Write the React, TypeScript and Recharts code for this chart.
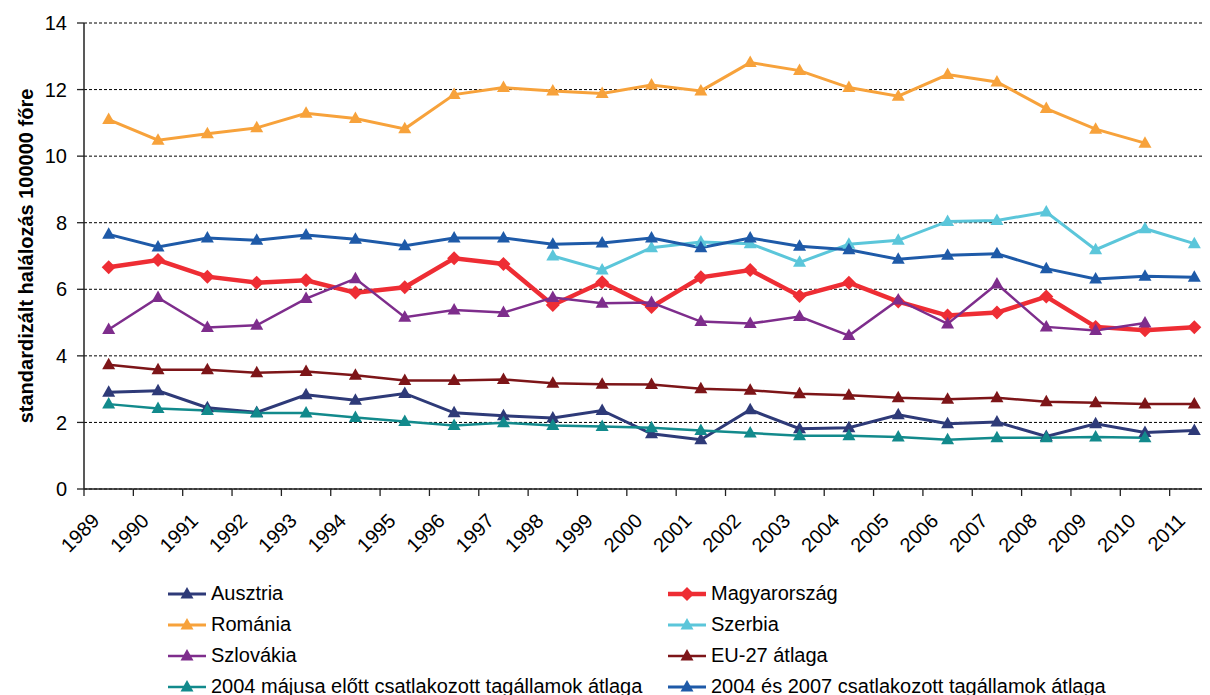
import { CartesianGrid, Line, LineChart, XAxis, YAxis } from "recharts";

const years = [
  "1989", "1990", "1991", "1992", "1993", "1994", "1995", "1996", "1997", "1998", "1999", "2000",
  "2001", "2002", "2003", "2004", "2005", "2006", "2007", "2008", "2009", "2010", "2011",
];

const ausztria = [
  2.91, 2.95, 2.44, 2.3, 2.83, 2.67, 2.87, 2.29, 2.2, 2.13, 2.36, 1.66,
  1.48, 2.38, 1.81, 1.84, 2.23, 1.96, 2.01, 1.58, 1.96, 1.7, 1.76,
];
const magyarorszag = [
  6.66, 6.88, 6.38, 6.2, 6.27, 5.9, 6.06, 6.93, 6.76, 5.53, 6.21, 5.47,
  6.36, 6.58, 5.8, 6.2, 5.63, 5.21, 5.3, 5.78, 4.87, 4.77, 4.86,
];
const romania = [
  11.1, 10.48, 10.67, 10.85, 11.29, 11.13, 10.82, 11.85, 12.06, 11.96, 11.88, 12.14,
  11.96, 12.81, 12.57, 12.06, 11.8, 12.45, 12.23, 11.43, 10.81, 10.39, null,
];
const szerbia = [
  null, null, null, null, null, null, null, null, null, 7.0, 6.58, 7.25,
  7.42, 7.37, 6.81, 7.35, 7.47, 8.04, 8.07, 8.32, 7.19, 7.82, 7.37,
];
const szlovakia = [
  4.79, 5.75, 4.85, 4.92, 5.72, 6.32, 5.16, 5.38, 5.3, 5.75, 5.58, 5.6,
  5.03, 4.97, 5.18, 4.61, 5.68, 4.96, 6.16, 4.87, 4.76, 4.99, null,
];
const eu27 = [
  3.73, 3.58, 3.58, 3.49, 3.53, 3.42, 3.26, 3.26, 3.29, 3.18, 3.15, 3.14,
  3.01, 2.97, 2.86, 2.82, 2.74, 2.7, 2.74, 2.62, 2.59, 2.55, 2.55,
];
const regiTagok = [
  2.55, 2.42, 2.36, 2.28, 2.28, 2.15, 2.03, 1.91, 1.99, 1.91, 1.88, 1.84,
  1.76, 1.68, 1.6, 1.6, 1.56, 1.48, 1.54, 1.54, 1.56, 1.54, null,
];
const ujTagok = [
  7.65, 7.27, 7.54, 7.47, 7.63, 7.5, 7.31, 7.54, 7.54, 7.35, 7.39, 7.54,
  7.25, 7.54, 7.29, 7.19, 6.9, 7.02, 7.07, 6.62, 6.31, 6.39, 6.36,
];

const yTicks = [0, 2, 4, 6, 8, 10, 12, 14];

type Shape = "triangle" | "diamond";
type Series = {
  key: string;
  name: string;
  values: (number | null)[];
  color: string;
  width: number;
  shape: Shape;
};

const series: Series[] = [
  { key: "ausztria", name: "Ausztria", values: ausztria, color: "#2e3a78", width: 3, shape: "triangle" },
  { key: "magyarorszag", name: "Magyarország", values: magyarorszag, color: "#ee2d34", width: 4.5, shape: "diamond" },
  { key: "romania", name: "Románia", values: romania, color: "#f7a23b", width: 3, shape: "triangle" },
  { key: "szerbia", name: "Szerbia", values: szerbia, color: "#5bc6da", width: 3, shape: "triangle" },
  { key: "szlovakia", name: "Szlovákia", values: szlovakia, color: "#7e2d8c", width: 2.5, shape: "triangle" },
  { key: "eu27", name: "EU-27 átlaga", values: eu27, color: "#7d1518", width: 2.5, shape: "triangle" },
  { key: "regi", name: "2004 májusa előtt csatlakozott tagállamok átlaga", values: regiTagok, color: "#128a8c", width: 2.5, shape: "triangle" },
  { key: "uj", name: "2004 és 2007 csatlakozott tagállamok átlaga", values: ujTagok, color: "#1e5aa8", width: 3, shape: "triangle" },
];

const data = years.map((year, i) => {
  const row: Record<string, string | number | null> = { year };
  series.forEach((s) => {
    row[s.key] = s.values[i];
  });
  return row;
});

const FONT = "'Liberation Sans', Arial, sans-serif";
const CHART_W = 1211;
const CHART_H = 562;
const Y_AXIS_W = 76;
// half of one category band: points sit in the middle, ticks on the edges
const HALF_BAND = (CHART_W - Y_AXIS_W) / years.length / 2;

function markerPath(shape: Shape, cx: number, cy: number) {
  if (shape === "diamond") {
    return `M${cx},${cy - 7}L${cx + 7},${cy}L${cx},${cy + 7}L${cx - 7},${cy}Z`;
  }
  return `M${cx},${cy - 7}L${cx + 6.5},${cy + 4.5}L${cx - 6.5},${cy + 4.5}Z`;
}

function makeDot(s: Series) {
  return (props: any) => {
    const { cx, cy, index } = props;
    if (cx == null || cy == null || Number.isNaN(cy) || s.values[index] == null) {
      return <g key={`${s.key}-${index}`} />;
    }
    return <path key={`${s.key}-${index}`} d={markerPath(s.shape, cx, cy)} fill={s.color} />;
  };
}

function YearTick(props: any) {
  const { x, y, payload } = props;
  return (
    <g>
      <line x1={x - HALF_BAND} y1={y} x2={x - HALF_BAND} y2={y + 7} stroke="#222" strokeWidth={1.3} />
      <text
        x={x - 8}
        y={y + 33}
        transform={`rotate(-45 ${x - 8} ${y + 33})`}
        textAnchor="end"
        fontSize={20}
        fontFamily={FONT}
        fill="#000"
      >
        {payload.value}
      </text>
    </g>
  );
}

function LegendItem({ s }: { s: Series }) {
  return (
    <div style={{ display: "flex", alignItems: "center", height: 31 }}>
      <svg width={38} height={20} style={{ marginRight: 5 }}>
        <line x1={0} y1={10} x2={38} y2={10} stroke={s.color} strokeWidth={s.width} />
        <path d={markerPath(s.shape, 19, 10)} fill={s.color} />
      </svg>
      <span style={{ fontSize: 20, fontFamily: FONT, color: "#000", whiteSpace: "nowrap" }}>{s.name}</span>
    </div>
  );
}

export default function App() {
  return (
    <div style={{ position: "relative", width: 1202, height: 687, overflow: "hidden", background: "#fff" }}>
      <LineChart
        width={CHART_W}
        height={CHART_H}
        data={data}
        margin={{ top: 15, right: 0, bottom: 0, left: 0 }}
      >
        <CartesianGrid vertical={false} stroke="#000" strokeDasharray="3 2" strokeWidth={1} />
        <XAxis
          dataKey="year"
          height={81}
          padding={{ left: HALF_BAND, right: HALF_BAND }}
          tick={<YearTick />}
          tickLine={false}
          tickSize={0}
          tickMargin={0}
          interval={0}
          axisLine={{ stroke: "#222", strokeWidth: 1.5 }}
        />
        <YAxis
          width={Y_AXIS_W}
          domain={[0, 14]}
          ticks={yTicks}
          interval={0}
          tickSize={7}
          tickMargin={10}
          tick={{ fontSize: 20, fontFamily: FONT, fill: "#000" }}
          tickLine={{ stroke: "#222", strokeWidth: 1.3 }}
          axisLine={{ stroke: "#222", strokeWidth: 1.5 }}
          label={{
            content: () => (
              <text
                x={25}
                y={248}
                transform="rotate(-90 25 248)"
                textAnchor="middle"
                fontSize={20}
                fontWeight="bold"
                fontFamily={FONT}
                fill="#000"
              >
                standardizált halálozás 100000 főre
              </text>
            ),
          }}
        />
        {series.map((s) => (
          <Line
            key={s.key}
            dataKey={s.key}
            name={s.name}
            stroke={s.color}
            strokeWidth={s.width}
            dot={makeDot(s)}
            activeDot={false}
            isAnimationActive={false}
          />
        ))}
      </LineChart>
      <div
        style={{
          position: "absolute",
          top: 570,
          left: 160,
          display: "grid",
          gridTemplateColumns: "500px 500px",
        }}
      >
        {series.map((s) => (
          <LegendItem key={s.key} s={s} />
        ))}
      </div>
    </div>
  );
}
